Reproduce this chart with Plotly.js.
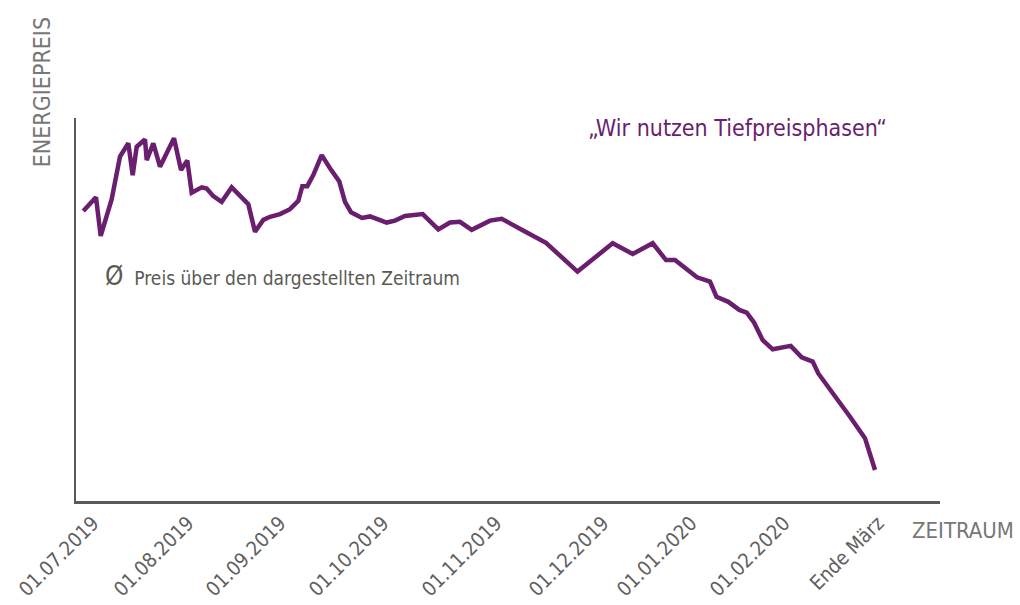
<!DOCTYPE html>
<html>
<head>
<meta charset="utf-8">
<script src="https://cdn.plot.ly/plotly-3.0.1.min.js"></script>
<style>html,body{margin:0;padding:0;background:#fff;}#chart{width:1020px;height:605px;}</style>
</head>
<body>
<div id="chart"></div>
<script>
// position along the time axis (arbitrary units) and price index (arbitrary units)
const timePos = [7.3,20,24.7,35.7,44,52.3,56.7,60.7,69,70.7,77.3,84,98,105,111.3,115.7,125.7,130.7,137.3,145.7,155.7,164,172.3,179,187.3,194,204,214,222.3,226.3,231.3,237.3,245.7,254,263.3,269,275,286,294,310.7,319,329,346.7,362.3,374,384,395.7,414,425.7,448,470,501.5,519,536.7,556.7,576.7,590,599,621,634,640.5,652.3,663.3,670.7,678,686.7,696.7,714.7,725.7,736.7,742.3,757.3,774,789,799];
const price = [75.7,79.3,69.2,78.8,89.9,93.4,85.1,92.5,94.4,89.0,93.4,87.3,94.7,86.4,88.9,80.5,81.9,81.6,79.6,78.1,81.9,79.6,77.5,70.3,73.4,74.2,74.9,76.2,78.4,82.2,82.2,85.1,90.3,86.9,83.4,78.1,75.4,73.9,74.3,72.7,73.2,74.4,74.9,70.9,72.7,72.9,70.8,73.2,73.7,70.5,67.4,59.9,63.4,67.3,64.5,67.3,62.9,62.9,58.4,57.3,53.3,52.0,49.9,49.2,46.6,42.0,39.6,40.5,37.5,36.4,33.3,28.1,22.0,16.4,8.1];
const tickPos = [17,112,204,307,420,527,615,708,802];
const tickLabels = ["01.07.2019","01.08.2019","01.09.2019","01.10.2019","01.11.2019","01.12.2019","01.01.2020","01.02.2020","Ende März"];

const FONT = "'DejaVu Sans Condensed', 'Liberation Sans Narrow', sans-serif";
const GRAY = "#5a5a55";
const PURPLE = "#6a1e6e";

const trace = {
  x: timePos, y: price, type: "scatter", mode: "lines",
  line: {color: PURPLE, width: 4.5},
  hoverinfo: "skip"
};

const layout = {
  width: 1020, height: 605,
  margin: {l: 76, r: 80, t: 118, b: 104},
  paper_bgcolor: "#fff", plot_bgcolor: "#fff",
  showlegend: false,
  font: {family: FONT, color: GRAY},
  xaxis: {
    range: [0, 864], showgrid: false, zeroline: false,
    showline: true, linecolor: GRAY, linewidth: 2.5,
    tickmode: "array", tickvals: tickPos, ticktext: tickLabels,
    tickangle: -45, ticks: "", tickfont: {family: FONT, size: 20, color: "#606060"},
    fixedrange: true
  },
  yaxis: {
    range: [0, 100], showgrid: false, zeroline: false,
    showline: true, linecolor: GRAY, linewidth: 2.5,
    showticklabels: false, ticks: "", fixedrange: true
  },
  annotations: [
    {xref: "paper", yref: "paper", x: -0.039, y: 1.068, text: "ENERGIEPREIS",
     textangle: -90, showarrow: false, font: {family: FONT, size: 23, color: "#777"},
     xanchor: "center", yanchor: "middle"},
    {xref: "paper", yref: "paper", x: 1.027, y: -0.076, text: "ZEITRAUM",
     showarrow: false, font: {family: FONT, size: 22, color: "#777"},
     xanchor: "center", yanchor: "middle"},
    {xref: "paper", yref: "paper", x: 0.766, y: 0.974, text: "„Wir nutzen Tiefpreisphasen“",
     showarrow: false, font: {family: FONT, size: 23, color: PURPLE},
     xanchor: "center", yanchor: "middle"},
    {xref: "paper", yref: "paper", x: 0.031, y: 0.588,
     text: "<span style='font-size:26px'>Ø</span>  Preis über den dargestellten Zeitraum",
     showarrow: false, font: {family: FONT, size: 19, color: GRAY},
     xanchor: "left", yanchor: "middle"}
  ]
};

Plotly.newPlot("chart", [trace], layout, {displayModeBar: false, staticPlot: true});
</script>
</body>
</html>
